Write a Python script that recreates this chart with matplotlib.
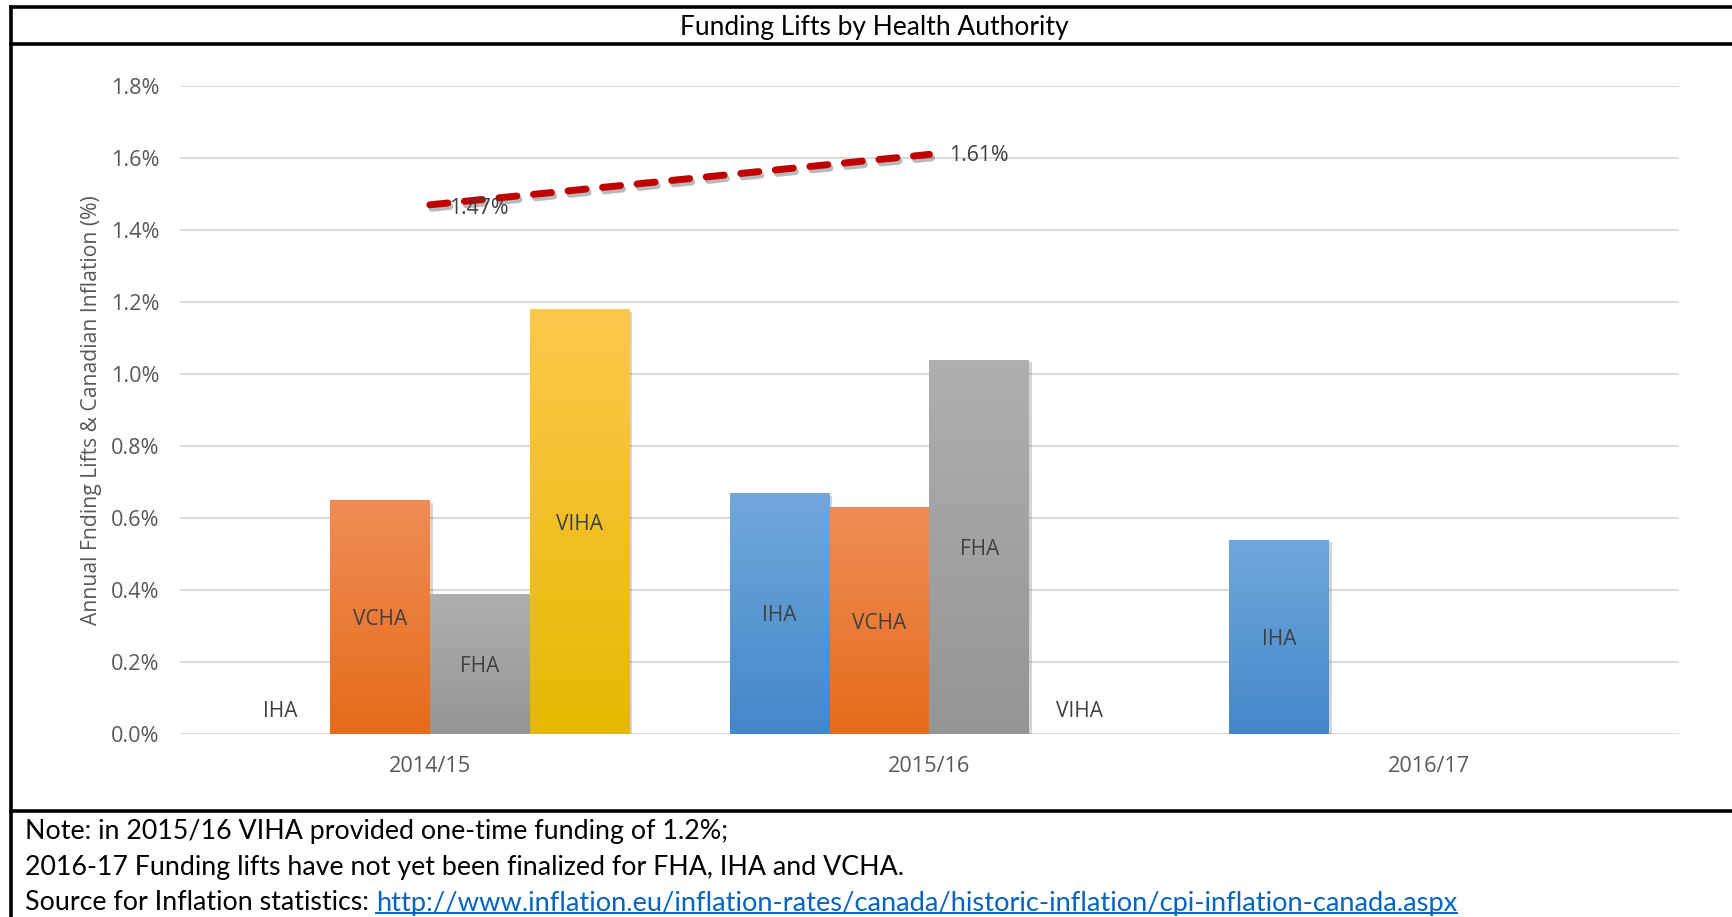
import numpy as np
import matplotlib
matplotlib.use('Agg')
import matplotlib.pyplot as plt
import matplotlib.patheffects as pe
from matplotlib.colors import LinearSegmentedColormap
from matplotlib.lines import Line2D

# data
years = ['2014/15', '2015/16', '2016/17']
authorities = ['IHA', 'VCHA', 'FHA', 'VIHA']
iha = [0.0, 0.67, 0.54]
vcha = [0.65, 0.63, None]
fha = [0.39, 1.04, None]
viha = [1.18, 0.0, None]
inflation = [1.47, 1.61]

title = 'Funding Lifts by Health Authority'
ylabel = 'Annual Fnding Lifts & Canadian Inflation (%)'
notes = ['Note: in 2015/16 VIHA provided one-time funding of 1.2%;',
         '2016-17 Funding lifts have not yet been finalized for FHA, IHA and VCHA.']
source_txt = 'Source for Inflation statistics: '
source_url = 'http://www.inflation.eu/inflation-rates/canada/historic-inflation/cpi-inflation-canada.aspx'

# gradient colours top -> bottom
grads = {'IHA': ('#71a7dc', '#4388ca'),
         'VCHA': ('#f08d56', '#e56b1a'),
         'FHA': ('#afafaf', '#959595'),
         'VIHA': ('#ffc84c', '#e6b800')}

W, H = 1733, 917
fig = plt.figure(figsize=(W / 100, H / 100), dpi=100)
fig.patch.set_facecolor('white')

chart_font = 'Open Sans'
note_font = 'Lato'

ax = fig.add_axes([180 / W, 1 - 734 / H, (1679 - 180) / W, (734 - 86) / H])
ax.set_xlim(-0.5, 2.5)
ax.set_ylim(0, 1.8)
ax.set_yticks(np.arange(0, 1.81, 0.2))
ax.set_yticklabels(['%.1f%%' % v for v in np.arange(0, 1.81, 0.2)])
ax.set_xticks(range(len(years)))
ax.set_xticklabels(years)
for s in ax.spines.values():
    s.set_visible(False)
ax.grid(axis='y', color='#d9d9d9', linewidth=1.4)
ax.set_axisbelow(True)
ax.tick_params(length=0, colors='#595959', labelsize=15.6, pad=15)
ax.tick_params(axis='x', pad=16)
for lab in ax.get_xticklabels() + ax.get_yticklabels():
    lab.set_fontfamily(chart_font)
ax.set_ylabel(ylabel, fontsize=15.2, color='#595959', family=chart_font, labelpad=6)

width = 0.2
series = {'IHA': iha, 'VCHA': vcha, 'FHA': fha, 'VIHA': viha}
for k, name in enumerate(authorities):
    vals = series[name]
    offset = (k - 1.5) * width
    xs = [i + offset for i, v in enumerate(vals) if v is not None]
    hs = [v for v in vals if v is not None]
    bars = ax.bar(xs, hs, width=width, color=grads[name][1], linewidth=0, zorder=2,
                  path_effects=[pe.SimplePatchShadow(offset=(2, -2), shadow_rgbFace='#888888', alpha=0.35),
                                pe.Normal()])
    cmap = LinearSegmentedColormap.from_list(name, [grads[name][1], grads[name][0]])
    for b, h in zip(bars.patches, hs):
        if h > 0:
            im = ax.imshow(np.linspace(0, 1, 100).reshape(-1, 1), cmap=cmap, origin='lower',
                           extent=[b.get_x(), b.get_x() + width, 0, h], aspect='auto', zorder=3)
            im.set_clip_path(b)
        ylab = h / 2 if h > 0 else 0.07
        ax.text(b.get_x() + width / 2, ylab, name, ha='center', va='center_baseline',
                fontsize=15, color='#404040', family=chart_font, zorder=5)

# inflation trend
xi = range(len(inflation))
ax.plot(xi, inflation, color='#c00000', linewidth=5, linestyle=(0, (2.6, 2.4)),
        dash_capstyle='round', solid_capstyle='round', zorder=6,
        path_effects=[pe.SimpleLineShadow(offset=(1.5, -2.5), shadow_color='#505050', alpha=0.4),
                      pe.Normal()])
for x, v in zip(xi, inflation):
    ax.annotate('%.2f%%' % v, (x, v), xytext=(14, -1 if x else -3), textcoords='offset points',
                ha='left', va='center', fontsize=15.3, color='#404040', family=chart_font, zorder=7)
ax.set_xlim(-0.5, 2.5)
ax.set_ylim(0, 1.8)

# frame lines
lw = 2.6
fig.add_artist(Line2D([11 / W, 1], [1 - 6.5 / H] * 2, color='black', lw=lw))
fig.add_artist(Line2D([11 / W, 1], [1 - 44 / H] * 2, color='black', lw=lw))
fig.add_artist(Line2D([11 / W, 1], [1 - 811 / H] * 2, color='black', lw=lw))
fig.add_artist(Line2D([11.5 / W] * 2, [0, 1 - 6.5 / H], color='black', lw=lw))

fig.text(874 / W, 1 - 27 / H, title, ha='center', va='center', fontsize=19, family=note_font, color='black')

fs = 19.3
ys = [832, 867, 903]
for t, y in zip(notes, ys[:2]):
    fig.text(25 / W, 1 - y / H, t, ha='left', va='center', fontsize=fs, family=note_font, color='black')
t1 = fig.text(25 / W, 1 - ys[2] / H, source_txt, ha='left', va='center', fontsize=fs, family=note_font, color='black')
fig.canvas.draw()
r = fig.canvas.get_renderer()
bb = t1.get_window_extent(r)
t2 = fig.text(bb.x1 / W, 1 - ys[2] / H, source_url, ha='left', va='center', fontsize=19.6,
              family=note_font, color='#0563c1')
fig.canvas.draw()
bb2 = t2.get_window_extent(r)
uy = bb2.y0 + 3
fig.add_artist(Line2D([bb2.x0 / W, bb2.x1 / W], [uy / H] * 2, color='#0563c1', lw=1.4))

fig.savefig('out.png', dpi=100)
